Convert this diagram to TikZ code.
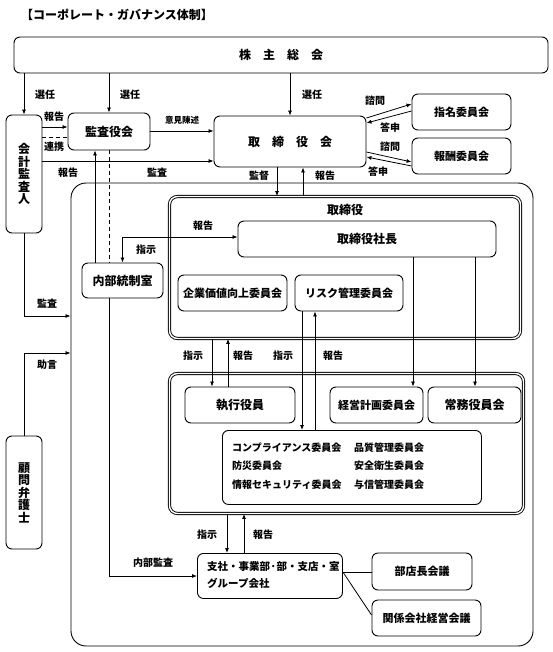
\documentclass[tikz,border=0pt]{standalone}
\usepackage{fontspec}
\setmainfont{Noto Sans CJK JP}
\usetikzlibrary{arrows.meta,calc}
\begin{document}
\begin{tikzpicture}[x=1pt,y=-1pt,
  font=\bfseries\fontsize{12}{14}\selectfont,
  box/.style={draw, line width=0.9pt, rounded corners=6pt, inner sep=0pt, align=center},
  dbox/.style={draw, line width=0.9pt, double=white, double distance=1.4pt, rounded corners=8pt, inner sep=0pt},
  arr/.style={-{Latex[length=5pt,width=4pt]}, line width=0.8pt},
  arrb/.style={{Latex[length=5pt,width=4pt]}-{Latex[length=5pt,width=4pt]}, line width=0.8pt},
  ln/.style={line width=0.8pt},
  lbl/.style={font=\bfseries\fontsize{10}{12}\selectfont, inner sep=0pt},
  f11/.style={font=\bfseries\fontsize{11}{13}\selectfont},
  f10/.style={font=\bfseries\fontsize{10}{12}\selectfont},
]
\useasboundingbox[fill=white] (0,0) rectangle (553,652);

\node[inner sep=0pt] (title) at (117,15) {【コーポレート・ガバナンス体制】};

% boxes
\node[box, minimum width=534pt, minimum height=36pt] (kabu) at (281,55) {株　主　総　会};
\node[box, minimum width=36pt, minimum height=118pt, font=\bfseries\fontsize{12}{12.5}\selectfont] (kaikei) at (24,174) {会\\計\\監\\査\\人};
\node[box, minimum width=82pt, minimum height=37pt] (kansa) at (109,131.5) {監査役会};
\node[box, minimum width=152pt, minimum height=51pt] (torikai) at (290,141.5) {取　締　役　会};
\node[box, f11, minimum width=99pt, minimum height=36pt] (shimei) at (461.5,112) {指名委員会};
\node[box, f11, minimum width=99pt, minimum height=36pt] (hoshu) at (461.5,156) {報酬委員会};

\node[draw, line width=0.9pt, rounded corners=15pt, minimum width=462pt, minimum height=463pt, inner sep=0pt] (outer) at (302,414.5) {};

\node[dbox, minimum width=351pt, minimum height=142pt] (toriyaku) at (345,267.5) {};
\node[inner sep=0pt] (toriyakut) at (345,210) {取締役};
\node[box, minimum width=258pt, minimum height=36pt] (shacho) at (367,239) {取締役社長};
\node[box, minimum width=81pt, minimum height=35pt] (naibu) at (122.5,280.5) {内部統制室};
\node[box, f11, minimum width=109pt, minimum height=36pt] (kigyo) at (232.5,293) {企業価値向上委員会};
\node[box, f11, minimum width=108pt, minimum height=36pt] (risk) at (349,293) {リスク管理委員会};

\node[dbox, minimum width=354pt, minimum height=140pt] (shikkog) at (346.5,443.5) {};
\node[box, minimum width=110pt, minimum height=36pt] (shikko) at (240,405) {執行役員};
\node[box, f11, minimum width=93pt, minimum height=36pt] (keiei) at (376.5,405) {経営計画委員会};
\node[box, minimum width=93pt, minimum height=36pt] (jomu) at (474.5,405) {常務役員会};
\node[box, minimum width=259pt, minimum height=74pt, anchor=north west] (iinkai) at (222,430) {};
\node[f10, anchor=west, inner sep=0pt] (i1) at (232,448) {コンプライアンス委員会};
\node[f10, anchor=west, inner sep=0pt] (i2) at (232,466) {防災委員会};
\node[f10, anchor=west, inner sep=0pt] (i3) at (232,485) {情報セキュリティ委員会};
\node[f10, anchor=west, inner sep=0pt] (i4) at (354,448) {品質管理委員会};
\node[f10, anchor=west, inner sep=0pt] (i5) at (354,466) {安全衛生委員会};
\node[f10, anchor=west, inner sep=0pt] (i6) at (354,485) {与信管理委員会};

\node[box, minimum width=145pt, minimum height=45pt, anchor=north west] (shisha) at (197,553) {};
\node[anchor=west, align=left, inner sep=0pt, font=\bfseries\fontsize{10.5}{17}\selectfont] (shishat) at (207,575.5) {支社・事業部·部・支店・室\\グループ会社};
\node[box, f11, minimum width=100pt, minimum height=37pt] (buten) at (422,571.5) {部店長会議};
\node[box, f11, minimum width=109pt, minimum height=36pt] (kankei) at (426.5,618) {関係会社経営会議};

\node[box, minimum width=36pt, minimum height=113pt, font=\bfseries\fontsize{12}{12.5}\selectfont] (komon) at (24,492.5) {顧\\問\\弁\\護\\士};

% connectors
\draw[arr] (kaikei.north |- kabu.south) -- (kaikei.north);
\draw[arr] (kansa.north |- kabu.south) -- (kansa.north);
\draw[arr] (torikai.north |- kabu.south) -- (torikai.north);
\draw[arr] (kaikei.east |- 0,127) -- (kansa.west |- 0,127);
\draw[ln, dashed, dash pattern=on 4pt off 3pt] (kaikei.east |- 0,137) -- (kansa.west |- 0,137);
\draw[arr] (kansa.east |- 0,131) -- (torikai.west |- 0,131);
\draw[arr] (kaikei.east |- 0,161) -- (torikai.west |- 0,161);
\draw[arr] (torikai.east |- 0,118) -- (shimei.west |- 0,104);
\draw[arr] (shimei.west |- 0,111) -- (torikai.east |- 0,123);
\draw[arr] (torikai.east |- 0,152) -- (hoshu.west |- 0,162);
\draw[arr] (hoshu.west |- 0,166) -- (torikai.east |- 0,157);
\draw[arr] (277,0 |- torikai.south) -- (277,0 |- toriyaku.north);
\draw[arr] (303,0 |- toriyaku.north) -- (303,0 |- torikai.south);
\draw[arrb] (naibu.north) |- (shacho.west |- 0,237);
\draw[arr] (95,0 |- naibu.north) -- (95,0 |- kansa.south);
\draw[ln, dashed, dash pattern=on 4pt off 3pt] (109,0 |- kansa.south) -- (109,0 |- naibu.north);
\draw[arr] (109,0 |- naibu.south) |- (shisha.west |- 0,576);
\draw[arr] (kaikei.south) |- (outer.west |- 0,316);
\draw[arr] (komon.north) |- (outer.west |- 0,353);
\draw[arr] (212,0 |- toriyaku.south) -- (212,0 |- shikko.north);
\draw[arr] (228,0 |- shikko.north) -- (228,0 |- toriyaku.south);
\draw[arr] (302,0 |- risk.south) -- (302,0 |- iinkai.north);
\draw[arr] (315,0 |- iinkai.north) -- (315,0 |- risk.south);
\draw[arr] (413,0 |- shacho.south) -- (413,0 |- keiei.north);
\draw[arr] (475,0 |- shacho.south) -- (475,0 |- jomu.north);
\draw[arr] (227,0 |- shikkog.south) -- (227,0 |- shisha.north);
\draw[arr] (244,0 |- shisha.north) -- (244,0 |- shikkog.south);
\draw[ln] (shisha.east |- 0,572) -- (buten.west |- 0,572);
\draw[ln] (shisha.east |- 0,572) -- (kankei.west |- 0,615);

% labels
\node[lbl] (l1) at (45,95) {選任};
\node[lbl] (l2) at (130,95) {選任};
\node[lbl] (l3) at (312,95) {選任};
\node[lbl] (l4) at (54,117) {報告};
\node[lbl] (l5) at (54,147) {連携};
\node[lbl, font=\bfseries\fontsize{8.5}{10}\selectfont] (l6) at (182,120) {意見陳述};
\node[lbl] (l7) at (68,173) {報告};
\node[lbl] (l8) at (157,173) {監査};
\node[lbl] (l9) at (259,176) {監督};
\node[lbl] (l10) at (325,176) {報告};
\node[lbl] (l11) at (375,101) {諮問};
\node[lbl] (l12) at (390,128) {答申};
\node[lbl] (l13) at (390,147) {諮問};
\node[lbl] (l14) at (378,172) {答申};
\node[lbl] (l15) at (203,226) {報告};
\node[lbl] (l16) at (146,250) {指示};
\node[lbl] (l17) at (47,304) {監査};
\node[lbl] (l18) at (47,365) {助言};
\node[lbl] (l19) at (193,356) {指示};
\node[lbl] (l20) at (243,356) {報告};
\node[lbl] (l21) at (283,356) {指示};
\node[lbl] (l22) at (333,356) {報告};
\node[lbl] (l23) at (207,535) {指示};
\node[lbl] (l24) at (263,535) {報告};
\node[lbl] (l25) at (153,563) {内部監査};
\end{tikzpicture}
\end{document}
